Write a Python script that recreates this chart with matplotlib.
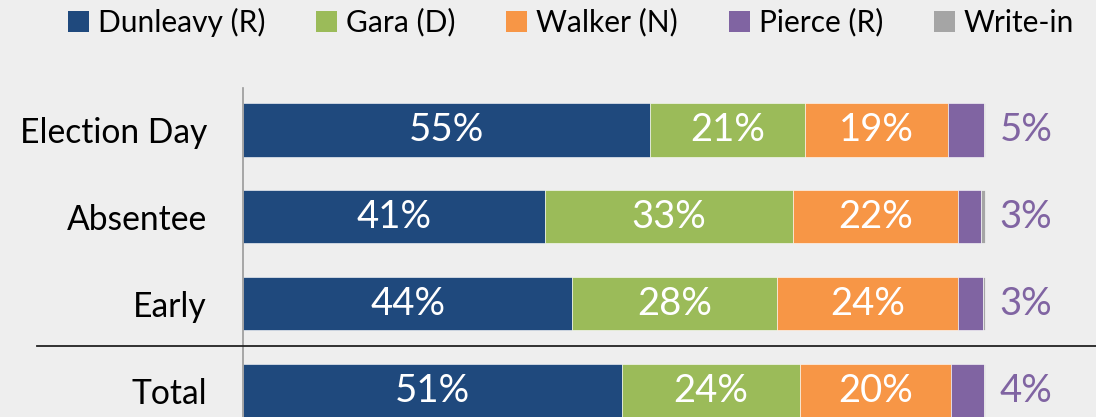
import matplotlib
matplotlib.use("Agg")
import matplotlib.pyplot as plt
from matplotlib.patches import Patch
from matplotlib.lines import Line2D

categories = ["Election Day", "Absentee", "Early", "Total"]
series_names = ["Dunleavy (R)", "Gara (D)", "Walker (N)", "Pierce (R)", "Write-in"]
dunleavy = [54.9, 40.7, 44.4, 51.1]
gara = [20.8, 33.4, 27.6, 23.9]
walker = [19.3, 22.2, 24.3, 20.4]
pierce = [4.8, 3.1, 3.4, 4.4]
writein = [0.2, 0.6, 0.3, 0.2]
colors = ["#1F497D", "#9BBB59", "#F79646", "#8064A2", "#A5A5A5"]

BG = "#EEEEEE"
plt.rcParams["font.family"] = ["Lato", "DejaVu Sans"]

W, H = 1096, 417
fig = plt.figure(figsize=(W / 100, H / 100), dpi=100, facecolor=BG)
ax_left, ax_right = 243, 1096
ax_top, ax_bot = 88, 417
ax = fig.add_axes([ax_left / W, 1 - ax_bot / H, (ax_right - ax_left) / W, (ax_bot - ax_top) / H])
ax.set_facecolor(BG)

px_per = 7.42
ax.set_xlim(0, (ax_right - ax_left) / px_per)
ax.set_ylim(3.3, -0.483)

ypos = list(range(len(categories)))
all_series = [dunleavy, gara, walker, pierce, writein]
left = [0.0] * len(categories)
for s, vals in enumerate(all_series):
    ax.barh(ypos, vals, left=left, height=0.61, color=colors[s], edgecolor="white",
            linewidth=0.4, label=series_names[s])
    if s < 3:
        for i, v in enumerate(vals):
            ax.text(left[i] + v / 2, ypos[i], f"{v:.0f}%", ha="center", va="center",
                    color="white", fontsize=27.5)
    left = [l + v for l, v in zip(left, vals)]

for i, v in enumerate(pierce):
    ax.text(left[i] + 2.0, ypos[i], f"{v:.0f}%", ha="left", va="center",
            color="#8064A2", fontsize=27.5)

for sp in ["top", "right", "bottom"]:
    ax.spines[sp].set_visible(False)
ax.spines["left"].set_color("#999999")
ax.spines["left"].set_linewidth(1.2)
ax.set_xticks([])
ax.set_yticks(ypos)
ax.set_yticklabels(categories, fontsize=24.2)
ax.tick_params(axis="y", length=0, pad=26)

# separator line above Total
ysep = 1 - 346 / H
fig.add_artist(Line2D([37 / W, 1.0], [ysep, ysep], color="#222222", linewidth=1.3))

handles = [Patch(facecolor=c, edgecolor="none") for c in colors]
fig.legend(handles, series_names, loc="center", bbox_to_anchor=(571 / W, 1 - 22 / H),
           ncol=5, frameon=False, fontsize=21.5, handlelength=0.7, handleheight=0.7,
           handletextpad=0.3, columnspacing=1.7)

fig.savefig("out.png", dpi=100, facecolor=BG)
